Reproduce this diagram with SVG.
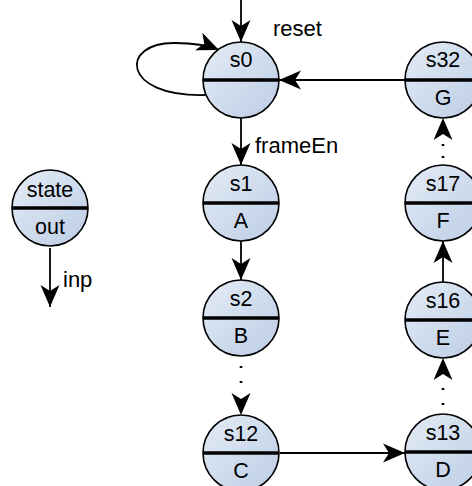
<svg xmlns="http://www.w3.org/2000/svg" width="472" height="486" viewBox="0 0 472 486">
  <style>
    .st { fill: url(#nodeFill); stroke: #000; stroke-width: 1.6; }
    .div { stroke: #000; stroke-width: 3.5; }
    .txt { font-family: "Liberation Sans", Arial, sans-serif; font-size: 21.5px; fill: #000; text-anchor: middle; }
    .lbl { font-family: "Liberation Sans", Arial, sans-serif; font-size: 22px; fill: #000; }
    .edge { fill: none; stroke: #000; stroke-width: 1.8; marker-end: url(#arrow); }
    .dots { stroke-width: 2.6; }
  </style>
  <defs>
    <linearGradient id="nodeFill" x1="0" y1="0" x2="1" y2="1">
      <stop offset="0" stop-color="#e4ecf6"/>
      <stop offset="1" stop-color="#bccde5"/>
    </linearGradient>
    <marker id="arrow" markerUnits="userSpaceOnUse" markerWidth="24" markerHeight="20" refX="22" refY="10" orient="auto" overflow="visible">
      <path d="M0,0.5 L22,10 L0,19.5 L6,10 Z" fill="#000"/>
    </marker>
  </defs>

  <!-- transitions -->
  <g id="connectors">
    <path class="edge" d="M241,0 L241,42"/>
    <path class="edge" d="M205,95 C120,97 120,42 175,43 C195,43 207,45 219,50"/>
    <path class="edge" d="M405,80 L279,80"/>
    <path class="edge" d="M241,118 L241,165"/>
    <path class="edge" d="M241,241 L241,280"/>
    <path class="edge dots" stroke-dasharray="0 10 2 13 2 300" d="M241,356 L241,415"/>
    <path class="edge" d="M280,453 L405,453"/>
    <path class="edge dots" stroke-dasharray="0 9 2 13 2 300" d="M443,414 L443,358"/>
    <path class="edge" d="M443,282 L443,241"/>
    <path class="edge dots" stroke-dasharray="0 7 2 10 2 300" d="M443,165 L443,118"/>
    <path class="edge" d="M50,248 L50,307"/>
    <text class="lbl" x="273" y="36">reset</text>
    <text class="lbl" x="255" y="153">frameEn</text>
    <text class="lbl" x="63" y="287">inp</text>
  </g>

  <!-- legend node -->
  <g id="legend">
    <circle class="st" cx="50" cy="208" r="38"/>
    <line class="div" x1="12" y1="208" x2="88" y2="208"/>
    <text class="txt" x="50" y="197">state</text>
    <text class="txt" x="50" y="234">out</text>
  </g>

  <g id="s0">
    <circle class="st" cx="241" cy="80" r="38"/>
    <line class="div" x1="203" y1="80" x2="279" y2="80"/>
    <text class="txt" x="241" y="67">s0</text>
  </g>
  <g id="s1">
    <circle class="st" cx="241" cy="203" r="38"/>
    <line class="div" x1="203" y1="203" x2="279" y2="203"/>
    <text class="txt" x="241" y="191">s1</text>
    <text class="txt" x="241" y="228">A</text>
  </g>
  <g id="s2">
    <circle class="st" cx="241" cy="318" r="38"/>
    <line class="div" x1="203" y1="318" x2="279" y2="318"/>
    <text class="txt" x="241" y="306">s2</text>
    <text class="txt" x="241" y="343">B</text>
  </g>
  <g id="s12">
    <circle class="st" cx="241" cy="453" r="38"/>
    <line class="div" x1="203" y1="453" x2="279" y2="453"/>
    <text class="txt" x="241" y="441">s12</text>
    <text class="txt" x="241" y="478">C</text>
  </g>
  <g id="s32">
    <circle class="st" cx="443" cy="80" r="38"/>
    <line class="div" x1="405" y1="80" x2="481" y2="80"/>
    <text class="txt" x="443" y="67">s32</text>
    <text class="txt" x="443" y="105">G</text>
  </g>
  <g id="s17">
    <circle class="st" cx="443" cy="203" r="38"/>
    <line class="div" x1="405" y1="203" x2="481" y2="203"/>
    <text class="txt" x="443" y="191">s17</text>
    <text class="txt" x="443" y="228">F</text>
  </g>
  <g id="s16">
    <circle class="st" cx="443" cy="320" r="38"/>
    <line class="div" x1="405" y1="320" x2="481" y2="320"/>
    <text class="txt" x="443" y="308">s16</text>
    <text class="txt" x="443" y="345">E</text>
  </g>
  <g id="s13">
    <circle class="st" cx="443" cy="452" r="38"/>
    <line class="div" x1="405" y1="452" x2="481" y2="452"/>
    <text class="txt" x="443" y="440">s13</text>
    <text class="txt" x="443" y="477">D</text>
  </g>
</svg>
